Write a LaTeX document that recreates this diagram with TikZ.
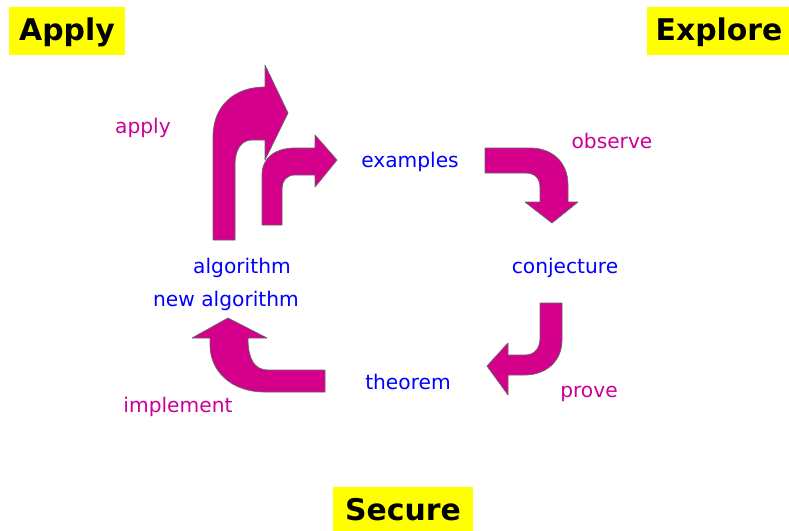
\documentclass[tikz,border=0pt]{standalone}
\usepackage{fontspec}
\setmainfont{DejaVu Sans}
\usepackage{tikz}
\usepackage{xcolor}
\definecolor{arrowmag}{RGB}{212,0,140}
\definecolor{wordmag}{RGB}{204,0,153}
\definecolor{wordblue}{RGB}{0,0,255}
\definecolor{tagyellow}{RGB}{255,255,0}

\begin{document}
\begin{tikzpicture}[x=0.02cm,y=-0.02cm]%
  \tikzstyle{tagbox}=[fill=tagyellow,inner sep=0,font=\fontsize{17}{20}\selectfont\bfseries]
  \tikzstyle{stage}=[text=wordblue,inner sep=0,font=\fontsize{11.5}{14}\selectfont]
  \tikzstyle{act}=[text=wordmag,inner sep=0,font=\fontsize{11.5}{14}\selectfont]
  \tikzstyle{bentarrow}=[fill=arrowmag,draw=black!60,line width=0.4pt,line join=round]
  \useasboundingbox (0,0) rectangle (789,531);
  % corner tags
  \fill[tagyellow] (9,7) rectangle (125,55);
  \node(apply)[tagbox] at (67,32) {Apply};
  \fill[tagyellow] (647,7) rectangle (789,55);
  \node(explore)[tagbox] at (719,32) {Explore};
  \fill[tagyellow] (333,487) rectangle (473,531);
  \node(secure)[tagbox] at (403,510) {Secure};
  % words of the cycle
  \node(ex)[stage] at (410,162) {examples};
  \node(conj)[stage] at (565,268) {conjecture};
  \node(thm)[stage] at (408,382) {theorem};
  \node(alg)[stage] at (242,268) {algorithm};
  \node(newalg)[stage] at (226,301) {new algorithm};
  \node(app)[act] at (143,128) {apply};
  \node(obs)[act] at (612,141) {observe};
  \node(prv)[act] at (589,394) {prove};
  \node(imp)[act] at (178,407) {implement};
  % bent arrows
  \draw[bentarrow] (213,240) -- (213,137) .. controls (213,105) and (235,87) .. (265,87)
    -- (265,65) -- (288,113) -- (265,160) -- (265,140) -- (252,140)
    .. controls (241,140) and (235,150) .. (235,165) -- (235,240) -- cycle;
  \draw[bentarrow] (262,225) -- (262,175) .. controls (262,158) and (275,148) .. (295,148)
    -- (315,148) -- (315,135) -- (337,160) -- (315,187) -- (315,175) -- (295,175)
    .. controls (287,175) and (282,180) .. (282,190) -- (282,225) -- cycle;
  \draw[bentarrow] (485,148) -- (530,148) .. controls (552,148) and (568,162) .. (568,185)
    -- (568,202) -- (578,202) -- (552,223) -- (525,202) -- (540,202) -- (540,188)
    .. controls (540,178) and (535,173) .. (525,173) -- (485,173) -- cycle;
  \draw[bentarrow] (540,303) -- (562,303) -- (562,340) .. controls (562,362) and (545,375) .. (525,375)
    -- (508,375) -- (508,395) -- (487,366) -- (508,343) -- (508,355) -- (525,355)
    .. controls (535,355) and (540,348) .. (540,338) -- cycle;
  \draw[bentarrow] (325,370) -- (325,392) -- (265,392) .. controls (230,392) and (210,370) .. (210,345)
    -- (210,338) -- (192,338) -- (228,318) -- (267,338) -- (248,338)
    .. controls (248,360) and (255,370) .. (268,370) -- cycle;
\end{tikzpicture}
\end{document}
